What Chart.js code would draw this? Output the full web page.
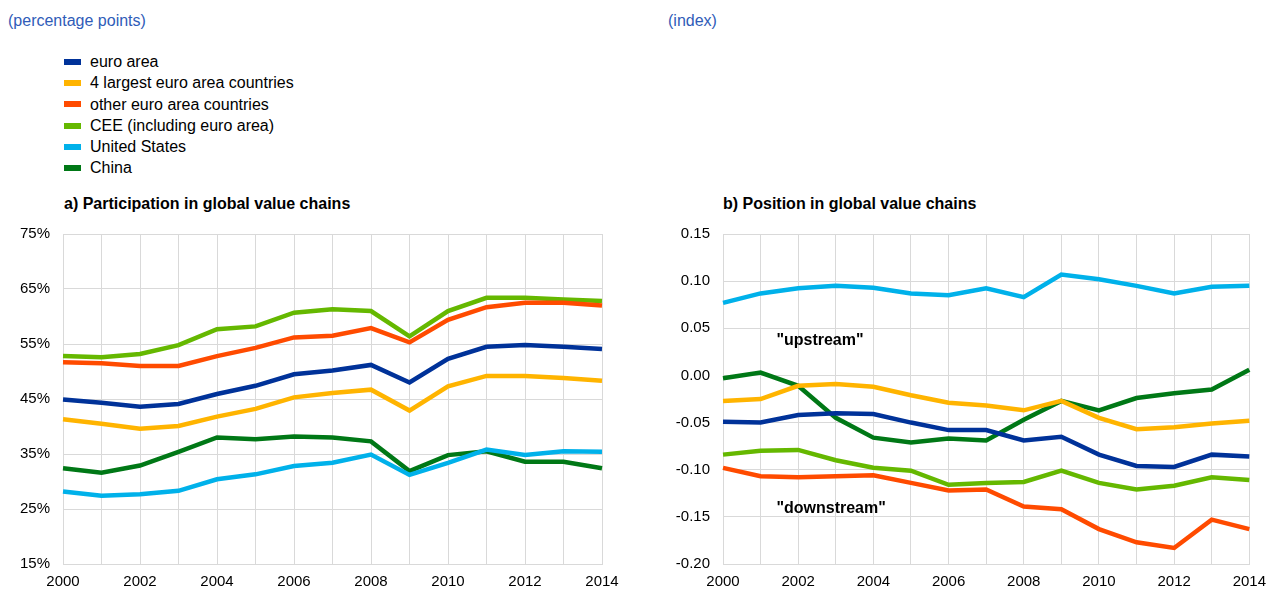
<!DOCTYPE html>
<html>
<head>
<meta charset="utf-8">
<script src="https://cdn.jsdelivr.net/npm/chart.js@4"></script>
<style>
  body { margin: 0; background: #fff; font-family: "Liberation Sans", Arial, sans-serif; }
  #page { position: relative; width: 1275px; height: 589px; overflow: hidden; }
  .unit { position: absolute; top: 12px; font-size: 16px; color: #2f5cb8; }
  .title { position: absolute; top: 195px; font-size: 16px; font-weight: bold; color: #000; }
  #legend { position: absolute; left: 64px; top: 51px; font-size: 16px; color: #000; }
  #legend div { height: 21.3px; line-height: 21.3px; white-space: nowrap; }
  #legend span { display: inline-block; width: 17px; height: 6px; margin-right: 9px; vertical-align: middle; position: relative; top: -1px; }
  canvas { position: absolute; }
</style>
</head>
<body>
<div id="page">
  <div class="unit" style="left:8px">(percentage points)</div>
  <div class="unit" style="left:668px">(index)</div>
  <div id="legend"></div>
  <div class="title" style="left:64px">a) Participation in global value chains</div>
  <div class="title" style="left:723px">b) Position in global value chains</div>
  <div style="position:absolute;left:0;top:212px;width:640px;height:377px"><canvas id="chartA"></canvas></div>
  <div style="position:absolute;left:640px;top:212px;width:635px;height:377px"><canvas id="chartB"></canvas></div>
</div>
<script>
// years on the x axis
const years = ['2000','2001','2002','2003','2004','2005','2006','2007','2008','2009','2010','2011','2012','2013','2014'];

const seriesNames = ['euro area', '4 largest euro area countries', 'other euro area countries',
  'CEE (including euro area)', 'United States', 'China'];
const seriesColors = ['#003299', '#ffb400', '#ff4b00', '#65b800', '#00b1ea', '#007816'];

// a) participation in GVCs, %
const partEuroArea = [44.9, 44.3, 43.6, 44.1, 45.9, 47.4, 49.5, 50.2, 51.2, 48.0, 52.3, 54.5, 54.8, 54.5, 54.1];
const partLargest4 = [41.3, 40.5, 39.6, 40.1, 41.8, 43.2, 45.3, 46.1, 46.7, 42.9, 47.3, 49.2, 49.2, 48.8, 48.3];
const partOtherEA  = [51.7, 51.5, 51.0, 51.0, 52.8, 54.3, 56.2, 56.5, 57.9, 55.3, 59.4, 61.7, 62.5, 62.5, 62.0];
const partCEE      = [52.8, 52.6, 53.2, 54.8, 57.7, 58.2, 60.7, 61.3, 61.0, 56.4, 61.0, 63.4, 63.4, 63.1, 62.8];
const partUS       = [28.2, 27.4, 27.7, 28.3, 30.4, 31.3, 32.8, 33.4, 34.9, 31.2, 33.4, 35.8, 34.8, 35.5, 35.4];
const partChina    = [32.4, 31.6, 32.9, 35.4, 38.0, 37.7, 38.2, 38.0, 37.3, 31.9, 34.8, 35.5, 33.6, 33.6, 32.4];

// b) position in GVCs, index
const posEuroArea = [-0.049, -0.050, -0.042, -0.040, -0.041, -0.050, -0.058, -0.058, -0.069, -0.065, -0.084, -0.096, -0.097, -0.084, -0.086];
const posLargest4 = [-0.027, -0.025, -0.011, -0.009, -0.012, -0.021, -0.029, -0.032, -0.037, -0.027, -0.045, -0.057, -0.055, -0.051, -0.048];
const posOtherEA  = [-0.098, -0.107, -0.108, -0.107, -0.106, -0.114, -0.122, -0.121, -0.139, -0.142, -0.163, -0.177, -0.183, -0.153, -0.163];
const posCEE      = [-0.084, -0.080, -0.079, -0.090, -0.098, -0.101, -0.116, -0.114, -0.113, -0.101, -0.114, -0.121, -0.117, -0.108, -0.111];
const posUS       = [0.077, 0.087, 0.0925, 0.095, 0.093, 0.087, 0.085, 0.0925, 0.083, 0.107, 0.102, 0.095, 0.087, 0.094, 0.095];
const posChina    = [-0.003, 0.003, -0.011, -0.045, -0.066, -0.071, -0.067, -0.069, -0.047, -0.027, -0.037, -0.024, -0.019, -0.015, 0.006];

const partTicks = [15, 25, 35, 45, 55, 65, 75];
const posTicks = [-0.20, -0.15, -0.10, -0.05, 0.00, 0.05, 0.10, 0.15];

// text notes inside panel b: [text, year index, value]
const posNotes = [['"upstream"', 1.42, 0.0365], ['"downstream"', 1.42, -0.141]];

const FONT = '"Liberation Sans", Arial, sans-serif';
const GRID = '#d9d9d9';

// legend
const legendBox = document.getElementById('legend');
seriesNames.forEach((name, i) => {
  const row = document.createElement('div');
  row.innerHTML = `<span style="background:${seriesColors[i]}"></span>${name}`;
  legendBox.appendChild(row);
});

function makeDatasets(list) {
  return list.map((data, i) => ({
    label: seriesNames[i],
    data: data,
    borderColor: seriesColors[i],
    backgroundColor: seriesColors[i],
    borderWidth: 4.5,
    pointRadius: 0,
    tension: 0,
    fill: false
  }));
}

const notesPlugin = {
  id: 'notes',
  afterDatasetsDraw(chart, args, opts) {
    if (!opts.items) return;
    const ctx = chart.ctx;
    ctx.save();
    ctx.font = 'bold 16px ' + FONT;
    ctx.fillStyle = '#000';
    ctx.textAlign = 'left';
    ctx.textBaseline = 'middle';
    opts.items.forEach(([text, xi, v]) => {
      ctx.fillText(text, chart.scales.x.getPixelForValue(xi), chart.scales.y.getPixelForValue(v));
    });
    ctx.restore();
  }
};

function makeChart(id, datasets, ticks, fmt, yWidth, padding, xHeight, notes) {
  return new Chart(document.getElementById(id), {
    type: 'line',
    data: { labels: years, datasets: makeDatasets(datasets) },
    plugins: [notesPlugin],
    options: {
      responsive: true,
      maintainAspectRatio: false,
      animation: false,
      layout: { padding: padding },
      plugins: {
        legend: { display: false },
        tooltip: { enabled: false },
        notes: { items: notes }
      },
      scales: {
        x: {
          grid: { color: GRID, drawTicks: false, lineWidth: 1 },
          border: { color: GRID },
          afterFit: s => { s.height = xHeight; },
          ticks: {
            autoSkip: false,
            maxRotation: 0,
            padding: 9,
            color: '#000',
            font: { family: FONT, size: 15 },
            callback: (v, i) => (i % 2 === 0 ? years[i] : '')
          }
        },
        y: {
          min: ticks[0],
          max: ticks[ticks.length - 1],
          afterBuildTicks: s => { s.ticks = ticks.map(v => ({ value: v })); },
          afterFit: s => { s.width = yWidth; },
          grid: { color: GRID, drawTicks: false, lineWidth: 1 },
          border: { color: GRID },
          ticks: {
            padding: 13,
            color: '#000',
            font: { family: FONT, size: 15 },
            callback: fmt
          }
        }
      }
    }
  });
}

makeChart('chartA', [partEuroArea, partLargest4, partOtherEA, partCEE, partUS, partChina],
  partTicks, v => v + '%', 55, { left: 8, right: 38, top: 0, bottom: 0 }, 25, null);

makeChart('chartB', [posEuroArea, posLargest4, posOtherEA, posCEE, posUS, posChina],
  posTicks, v => v.toFixed(2), 73, { left: 10, right: 17, top: 0, bottom: 0 }, 25, posNotes);
</script>
</body>
</html>
